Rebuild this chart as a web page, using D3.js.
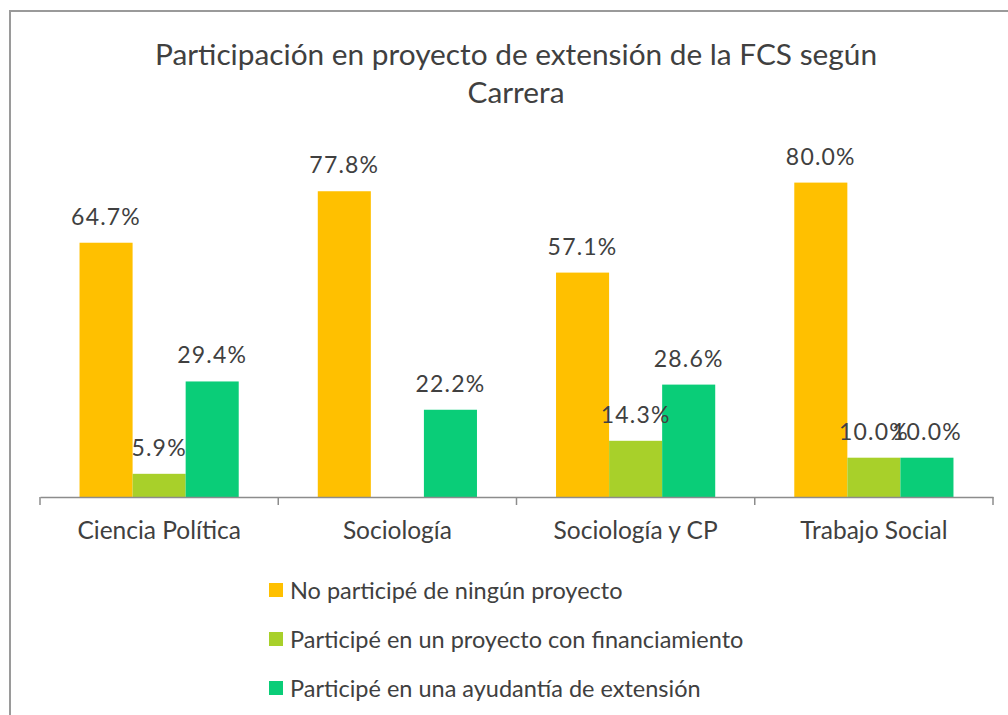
<!DOCTYPE html>
<html lang="es">
<head>
<meta charset="UTF-8">
<title>Participación en proyecto de extensión</title>
<script src="https://d3js.org/d3.v7.min.js"></script>
<style>
  body { margin: 0; background: #fff; }
  text { font-family: Lato, "Open Sans", sans-serif; fill: #404040; }
</style>
</head>
<body>
<svg width="1008" height="715"></svg>
<script>
// Data
const categories = ["Ciencia Política", "Sociología", "Sociología y CP", "Trabajo Social"];
const series = [
  "No participé de ningún proyecto",
  "Participé en un proyecto con financiamiento",
  "Participé en una ayudantía de extensión"
];
const noParticipe = [64.7, 77.8, 57.1, 80.0];
const conFinanciamiento = [5.9, 0, 14.3, 10.0];
const ayudantia = [29.4, 22.2, 28.6, 10.0];
const colors = ["#FFC000", "#A8D02A", "#0ACD78"];

const values = [noParticipe, conFinanciamiento, ayudantia];

const svg = d3.select("svg");

// Outer frame
svg.append("rect")
  .attr("x", 10).attr("y", 11)
  .attr("width", 1010).attr("height", 720)
  .attr("fill", "none")
  .attr("stroke", "#9a9a9a")
  .attr("stroke-width", 2);

// Title
svg.append("text")
  .attr("x", 516).attr("y", 65)
  .attr("text-anchor", "middle")
  .attr("font-size", 29.8)
  .text("Participación en proyecto de extensión de la FCS según");
svg.append("text")
  .attr("x", 516).attr("y", 103)
  .attr("text-anchor", "middle")
  .attr("font-size", 29.8)
  .text("Carrera");

// Scales
const x0 = d3.scaleBand().domain(categories).range([40, 993]).padding(0);
const x1 = d3.scaleBand().domain(series).range([0, x0.bandwidth()]).paddingInner(0).paddingOuter(0.745);
const y = d3.scaleLinear().domain([0, 100]).range([497, 104]);

// Bars
const groups = svg.append("g").selectAll("g")
  .data(categories)
  .join("g")
  .attr("transform", d => `translate(${x0(d)},0)`);

groups.selectAll("rect")
  .data((c, i) => series.map((s, k) => ({ s, k, v: values[k][i] })))
  .join("rect")
  .attr("x", d => x1(d.s))
  .attr("y", d => y(d.v))
  .attr("width", x1.bandwidth())
  .attr("height", d => y(0) - y(d.v))
  .attr("fill", d => colors[d.k]);

// Value labels
groups.selectAll("text")
  .data((c, i) => series.map((s, k) => ({ s, k, v: values[k][i] })).filter(d => d.v > 0))
  .join("text")
  .attr("x", d => x1(d.s) + x1.bandwidth() / 2)
  .attr("y", d => y(d.v) - 18)
  .attr("text-anchor", "middle")
  .attr("font-size", 23)
  .attr("letter-spacing", 1.2)
  .text(d => d.v.toFixed(1) + "%");

// Category axis
const axis = svg.append("g")
  .attr("transform", `translate(0,${y(0)})`)
  .call(d3.axisBottom(x0).tickSize(0).tickPadding(25));
axis.select(".domain").attr("stroke", "#8c8c8c").attr("stroke-width", 1.5);
axis.selectAll(".tick text")
  .attr("font-family", "Lato, 'Open Sans', sans-serif")
  .attr("font-size", 24.5)
  .attr("fill", "#404040");

// Boundary tick marks
const bounds = categories.map(c => x0(c)).concat([x0.range()[1]]);
axis.selectAll(".bound")
  .data(bounds)
  .join("line")
  .attr("class", "bound")
  .attr("x1", d => d).attr("x2", d => d)
  .attr("y1", 0).attr("y2", 8)
  .attr("stroke", "#8c8c8c")
  .attr("stroke-width", 1.5);

// Legend
const legend = svg.append("g").selectAll("g")
  .data(series)
  .join("g")
  .attr("transform", (d, i) => `translate(269,${590 + i * 49})`);
legend.append("rect")
  .attr("x", 0).attr("y", -7)
  .attr("width", 14).attr("height", 14)
  .attr("fill", (d, i) => colors[i]);
legend.append("text")
  .attr("x", 21).attr("y", 8.5)
  .attr("font-size", 23.5)
  .text(d => d);
</script>
</body>
</html>
